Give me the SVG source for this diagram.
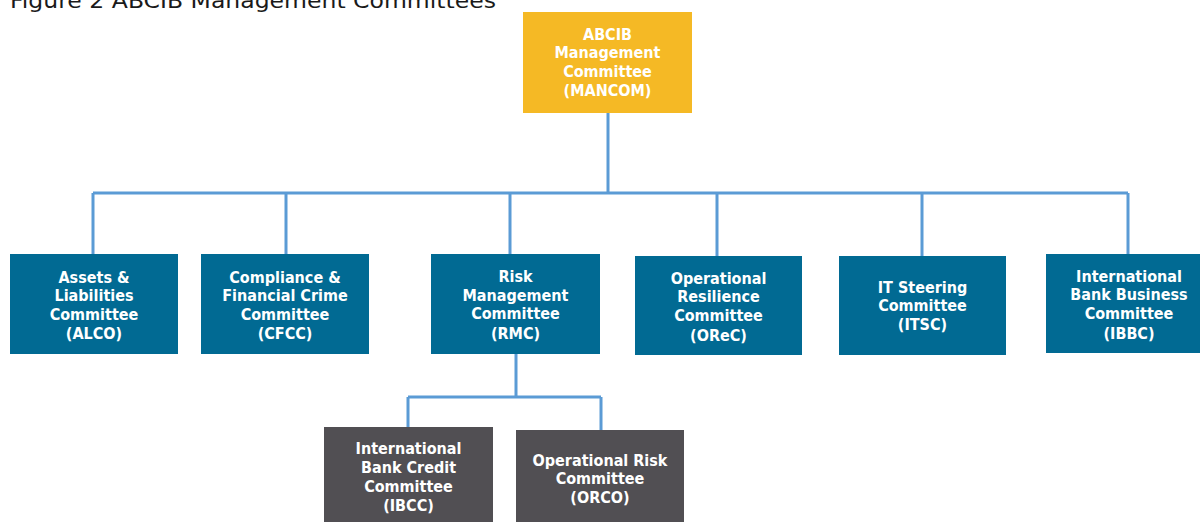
<svg xmlns="http://www.w3.org/2000/svg" width="1200" height="522" viewBox="0 0 1200 522">
  <style>
    .title { font-family: "DejaVu Sans", "Liberation Sans", sans-serif; font-size: 22px; fill: #1a1a1a; }
    .lbl { font-family: "DejaVu Sans Condensed", "DejaVu Sans", sans-serif; font-weight: bold; font-size: 16px; fill: #ffffff; text-anchor: middle; }
    .top { fill: #F5B925; }
    .mid { fill: #016A93; }
    .sub { fill: #514F53; }
    .link { fill: none; stroke: #5B9BD5; stroke-width: 3; }
  </style>
  <rect width="1200" height="522" fill="#ffffff"/>
  <text class="title" x="10" y="8" textLength="486" lengthAdjust="spacingAndGlyphs">Figure 2 ABCIB Management Committees</text>

  <!-- connectors -->
  <g id="connectors">
    <path class="link" d="M608 113 V193"/>
    <path class="link" d="M93 193 H1128"/>
    <path class="link" d="M93 193 V254 M286 193 V254 M510 193 V254 M717 193 V256 M922 193 V256 M1128 193 V254"/>
    <path class="link" d="M516 354 V397 M408 397 H601 M408 397 V427 M601 397 V430"/>
  </g>

  <g id="mancom">
    <rect class="top" x="523" y="12" width="169" height="101"/>
    <text class="lbl"><tspan x="607.5" y="40">ABCIB</tspan><tspan x="607.5" y="58">Management</tspan><tspan x="607.5" y="77">Committee</tspan><tspan x="607.5" y="96">(MANCOM)</tspan></text>
  </g>

  <g id="alco">
    <rect class="mid" x="10" y="254" width="168" height="100"/>
    <text class="lbl"><tspan x="94" y="283">Assets &amp;</tspan><tspan x="94" y="301">Liabilities</tspan><tspan x="94" y="320">Committee</tspan><tspan x="94" y="339">(ALCO)</tspan></text>
  </g>

  <g id="cfcc">
    <rect class="mid" x="201" y="254" width="168" height="100"/>
    <text class="lbl"><tspan x="285" y="283">Compliance &amp;</tspan><tspan x="285" y="301">Financial Crime</tspan><tspan x="285" y="320">Committee</tspan><tspan x="285" y="339">(CFCC)</tspan></text>
  </g>

  <g id="rmc">
    <rect class="mid" x="431" y="254" width="169" height="100"/>
    <text class="lbl"><tspan x="515.5" y="282">Risk</tspan><tspan x="515.5" y="301">Management</tspan><tspan x="515.5" y="319">Committee</tspan><tspan x="515.5" y="339">(RMC)</tspan></text>
  </g>

  <g id="orec">
    <rect class="mid" x="635" y="256" width="167" height="99"/>
    <text class="lbl"><tspan x="718.5" y="284">Operational</tspan><tspan x="718.5" y="302">Resilience</tspan><tspan x="718.5" y="321">Committee</tspan><tspan x="718.5" y="341">(OReC)</tspan></text>
  </g>

  <g id="itsc">
    <rect class="mid" x="839" y="256" width="167" height="99"/>
    <text class="lbl"><tspan x="922.5" y="293">IT Steering</tspan><tspan x="922.5" y="311">Committee</tspan><tspan x="922.5" y="330">(ITSC)</tspan></text>
  </g>

  <g id="ibbc">
    <rect class="mid" x="1046" y="254" width="154" height="99"/>
    <text class="lbl"><tspan x="1129" y="282">International</tspan><tspan x="1129" y="300">Bank Business</tspan><tspan x="1129" y="319">Committee</tspan><tspan x="1129" y="339">(IBBC)</tspan></text>
  </g>

  <g id="ibcc">
    <rect class="sub" x="324" y="427" width="169" height="95"/>
    <text class="lbl"><tspan x="408.5" y="454">International</tspan><tspan x="408.5" y="473">Bank Credit</tspan><tspan x="408.5" y="492">Committee</tspan><tspan x="408.5" y="511">(IBCC)</tspan></text>
  </g>

  <g id="orco">
    <rect class="sub" x="516" y="430" width="168" height="92"/>
    <text class="lbl"><tspan x="600" y="466">Operational Risk</tspan><tspan x="600" y="484">Committee</tspan><tspan x="600" y="503">(ORCO)</tspan></text>
  </g>
</svg>
